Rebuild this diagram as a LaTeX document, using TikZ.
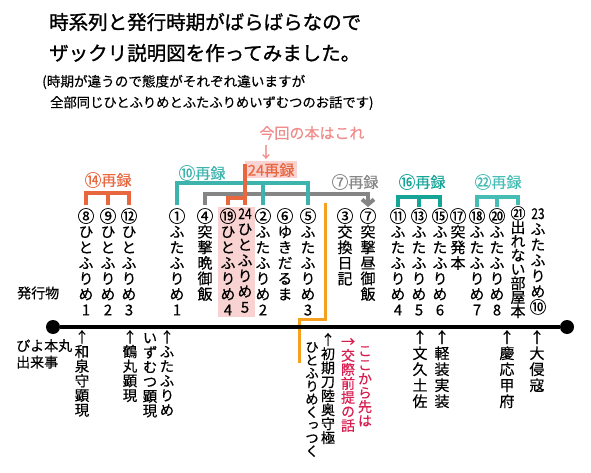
\documentclass[tikz,border=0pt]{standalone}
\usepackage{fontspec}
\setmainfont[FakeBold=0.4]{Noto Sans CJK JP}
\newfontfamily\jpfont[FakeBold=0.4]{Noto Sans CJK JP}
\newfontfamily\titlefont[FakeBold=1.2]{Noto Sans CJK JP}
\newfontfamily\tatefont[RawFeature=+vert, FakeBold=0.4]{Noto Sans CJK JP}
\usetikzlibrary{arrows.meta, positioning, fit, backgrounds}

\definecolor{recred}{HTML}{E8673F}
\definecolor{pinkbg}{HTML}{F9D2D2}
\definecolor{nowpink}{HTML}{F08C8C}
\definecolor{teala}{HTML}{3DB3AE}
\definecolor{tealb}{HTML}{14A597}
\definecolor{tealc}{HTML}{45BDB5}
\definecolor{gline}{HTML}{858585}
\definecolor{divor}{HTML}{F5A01E}
\definecolor{crim}{HTML}{D81E4F}

% vertical text: one character per line
\makeatletter
\newcommand\tate[2][15.6pt]{\vbox{\tatefont\baselineskip=#1\lineskiplimit=-\maxdimen
  \edef\tatelist{#2}\def\tatego{\@tfor\tatechar:=}%
  \expandafter\tatego\tatelist\do{\hbox to 1.05em{\hss\tatechar\hss}}}}
\makeatother
\protected\def\cn#1{\raisebox{-0.04em}{\scalebox{1.12}{#1}}}
\protected\def\tcy#1{\scalebox{0.8}[1]{#1}}
\protected\def\ua{{\jpfont ↑}}
\protected\def\ra{{\jpfont →}}

\begin{document}
\begin{tikzpicture}[x=1pt, y=-1pt,
    col/.style={anchor=north, inner sep=0pt, font=\fontsize{15}{15}\selectfont},
    lbl/.style={inner sep=0pt, font=\fontsize{15}{15}\selectfont},
    brk/.style={line width=3.5pt},
    dot/.style={circle, fill=black, minimum size=14pt, inner sep=0pt}]
  \useasboundingbox (0,0) rectangle (591,473);
  % title
  \node[inner sep=0pt, anchor=west, font=\titlefont\fontsize{19.5}{20}\selectfont] (t1) at (49,22) {時系列と発行時期がばらばらなので};
  \node[inner sep=0pt, anchor=west, font=\titlefont\fontsize{19.5}{20}\selectfont] (t2) at (49,53) {ザックリ説明図を作ってみました。};
  \node[inner sep=0pt, anchor=west, font=\fontsize{13.6}{14}\selectfont] (s1) at (42,82) {(時期が違うので態度がそれぞれ違いますが};
  \node[inner sep=0pt, anchor=west, font=\fontsize{13.3}{14}\selectfont] (s2) at (50,103) {全部同じひとふりめとふたふりめいずむつのお話です)};
  % publications
  \foreach \n/\x/\c/\s in {8/86/⑧/ひとふりめ1, 9/108/⑨/ひとふりめ2, 12/129/⑫/ひとふりめ3,
      1/177/①/ふたふりめ1, 4/205/④/突撃晩御飯, 19/228/⑲/ひとふりめ4,
      2/263/②/ふたふりめ2, 6/285/⑥/ゆきだるま, 5/308/⑤/ふたふりめ3,
      3/345/③/交換日記, 7/368/⑦/突撃昼御飯, 11/398/⑪/ふたふりめ4,
      13/419/⑬/ふたふりめ5, 15/440/⑮/ふたふりめ6, 17/458/⑰/突発本,
      18/477/⑱/ふたふりめ7, 20/497/⑳/ふたふりめ8}
    \node[col] (c\n) at (\x,208) {\tate{{\cn\c}\s}};
  \node[col] (c24) at (245,208) {\tate{{\tcy{24}}ひとふりめ5}};
  \node[col] (c21) at (518,206) {\tate[14pt]{㉑出れない部屋本}};
  \node[col] (c23) at (538,208) {\tate{{\tcy{23}}ふたふりめ{\cn⑩}}};
  \begin{scope}[on background layer]
    \node[fill=pinkbg, inner sep=1.5pt, fit=(c19)(c24)] (hl) {};
  \end{scope}
  % reprint labels
  \node[lbl, text=nowpink] (lnow) at (312,133) {今回の本はこれ};
  \node[lbl, text=nowpink] (dn) at (266,152) {↓};
  \node[lbl, text=recred, fill=pinkbg, minimum width=52pt, minimum height=17pt] (l24) at (271,170) {24再録};
  \node[lbl, text=recred] (l14) at (108,180) {\cn{⑭}再録};
  \node[lbl, text=teala] (l10) at (202,173) {\cn{⑩}再録};
  \node[lbl, text=gline] (l7) at (355,182) {\cn{⑦}再録};
  \node[lbl, text=tealb] (l16) at (422,182) {\cn{⑯}再録};
  \node[lbl, text=tealc] (l22) at (498,182) {\cn{㉒}再録};
  % brackets
  \draw[brk, recred] ([yshift=3pt]c8.north) -- ++(0,-12) -| ([yshift=3pt]c12.north);
  \draw[brk, recred] ([yshift=3pt]c9.north) -- ++(0,-12);
  \draw[gline, line width=4pt, -{Straight Barb[length=5pt, width=12pt]}]
    ([yshift=3pt]c4.north) -- ++(0,-11) -| ([yshift=1pt]c7.north);
  \draw[brk, teala] ([yshift=3pt]c1.north) -- ++(0,-22) -| ([yshift=3pt]c5.north);
  \draw[brk, teala] ([yshift=3pt]c2.north) -- ++(0,-22);
  \draw[brk, recred] ([yshift=-3pt]l24.north west -| c24.north) -- ([yshift=3pt]c24.north);
  \draw[brk, recred] ([yshift=3pt]c19.north) -- ++(0,-7) -| ([yshift=3pt]c24.north);
  \draw[brk, tealb, line width=4.5pt] ([yshift=1pt]c11.north) -- ++(0,-10) -| ([yshift=1pt]c15.north);
  \draw[brk, tealb, line width=4.5pt] ([yshift=1pt]c13.north) -- ++(0,-10);
  \draw[brk, tealc] ([yshift=1pt]c18.north) -- ++(0,-10) -| ([yshift=1.5pt]c21.north);
  \draw[brk, tealc] ([yshift=1pt]c20.north) -- ++(0,-10);
  % timeline
  \draw[divor, line width=3pt] (325,203) |- (299,319) -- (299,363);
  \node[dot] (pl) at (53,327) {};
  \node[dot] (pr) at (567,327) {};
  \draw[line width=3.5pt] (pl) -- (pr);
  \node[lbl, anchor=west, font=\fontsize{14}{14}\selectfont] (pub) at (17,293) {発行物};
  \node[lbl, anchor=north west, align=left, font=\fontsize{14}{16.5}\selectfont] (ev) at (16,339) {ぴよ本丸\\出来事};
  % events
  \node[col, font=\fontsize{14.5}{15}\selectfont] (e1) at (82,330) {\tate[14.6pt]{\ua 和泉守顕現}};
  \node[col, font=\fontsize{14.5}{15}\selectfont] (e2) at (130,330) {\tate[14.6pt]{\ua 鶴丸顕現}};
  \node[col, font=\fontsize{14.5}{15}\selectfont] (e3a) at (167,330) {\tate[14.6pt]{\ua ふたふりめ}};
  \node[col, font=\fontsize{14.5}{15}\selectfont] (e3b) at (150,333) {\tate[14.6pt]{いずむつ顕現}};
  \node[col, font=\fontsize{14}{14}\selectfont] (e4a) at (328,333) {\tate[14pt]{\ua 初期刀陸奥守極}};
  \node[col, font=\fontsize{13.5}{14}\selectfont] (e4b) at (312,342) {\tate[13pt]{ひとふりめくっつく}};
  \node[col, font=\fontsize{14}{14}\selectfont, text=crim] (r1) at (365,346) {\tate[14pt]{ここから先は}};
  \node[col, font=\fontsize{14}{14}\selectfont, text=crim] (r2) at (348,338) {\tate[14pt]{\ra 交際前提の話}};
  \node[col] (e5) at (420,330) {\tate[16pt]{\ua 文久土佐}};
  \node[col] (e6) at (442,330) {\tate[16pt]{\ua 軽装実装}};
  \node[col] (e7) at (507,330) {\tate[16pt]{\ua 慶応甲府}};
  \node[col] (e8) at (537,330) {\tate[16pt]{\ua 大侵寇}};
\end{tikzpicture}
\end{document}
